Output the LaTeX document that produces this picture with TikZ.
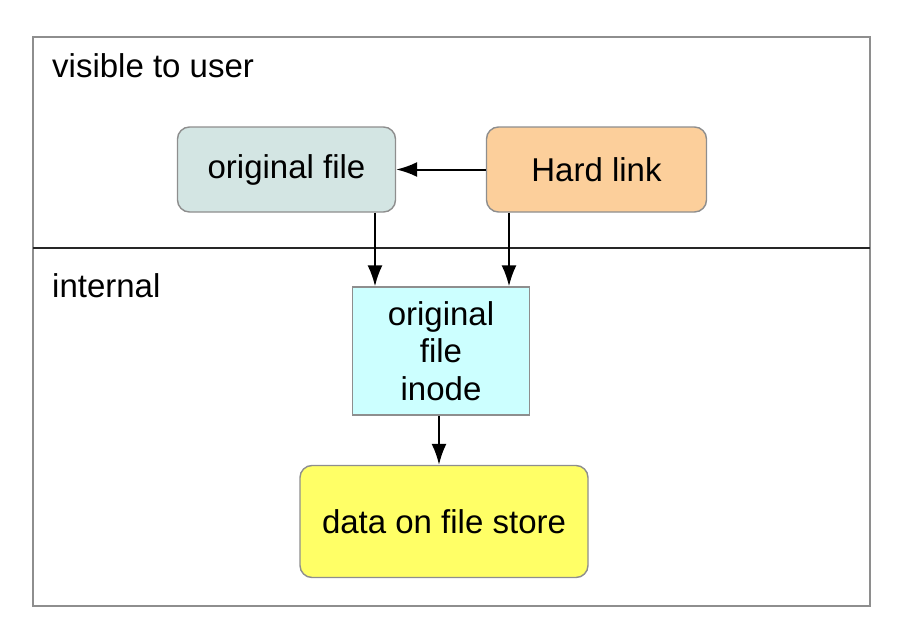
\documentclass[tikz,border=0pt]{standalone}
\usepackage{fontspec}
\setmainfont{Liberation Sans}
\usetikzlibrary{arrows.meta,positioning}

\definecolor{filegray}{HTML}{D3E5E3}
\definecolor{linkorange}{HTML}{FCCF9B}
\definecolor{inodecyan}{HTML}{CCFFFF}
\definecolor{storeyellow}{HTML}{FFFF66}
\definecolor{edgegray}{HTML}{8E8E8E}

\tikzset{
  box/.style={rectangle,draw=edgegray,line width=1.4pt,align=center,inner sep=0pt},
  roundbox/.style={box,rounded corners=12pt},
  lbl/.style={anchor=base west,inner sep=0pt}
}

\begin{document}
\begin{tikzpicture}[x=1pt,y=-1pt,>={Latex[length=21pt,width=15pt]},font=\fontsize{33}{37.5}\selectfont]
\useasboundingbox (0,0) rectangle (903,637);
% frame and divider
\draw[edgegray,line width=1.5pt] (33,37) rectangle (870,606);
\draw[line width=2pt,black!85] (33,248) -- (870,248);
\node[lbl] (vis) at (52,77) {visible to user};
\node[lbl] (int) at (52,297) {internal};

\node[roundbox,fill=filegray,minimum width=218pt,minimum height=85pt] (orig) at (286.5,169.5) {original file};
\node[roundbox,fill=linkorange,minimum width=220pt,minimum height=85pt] (hard) at (596.5,169.5) {Hard link};
\node[box,fill=inodecyan,minimum width=177pt,minimum height=128pt] (inode) at (441,351) {original\\file\\inode};
\node[roundbox,fill=storeyellow,minimum width=288pt,minimum height=112pt] (store) at (444,521.5) {data on file store};

\draw [->,line width=2pt] (hard) -- (orig);
\draw [->,line width=2pt] (orig.south -| 375,0) -- (inode.north -| 375,0);
\draw [->,line width=2pt] (hard.south -| 509,0) -- (inode.north -| 509,0);
\draw [->,line width=2pt] (inode.south -| 439,0) -- (store.north -| 439,0);

\end{tikzpicture}
\end{document}
